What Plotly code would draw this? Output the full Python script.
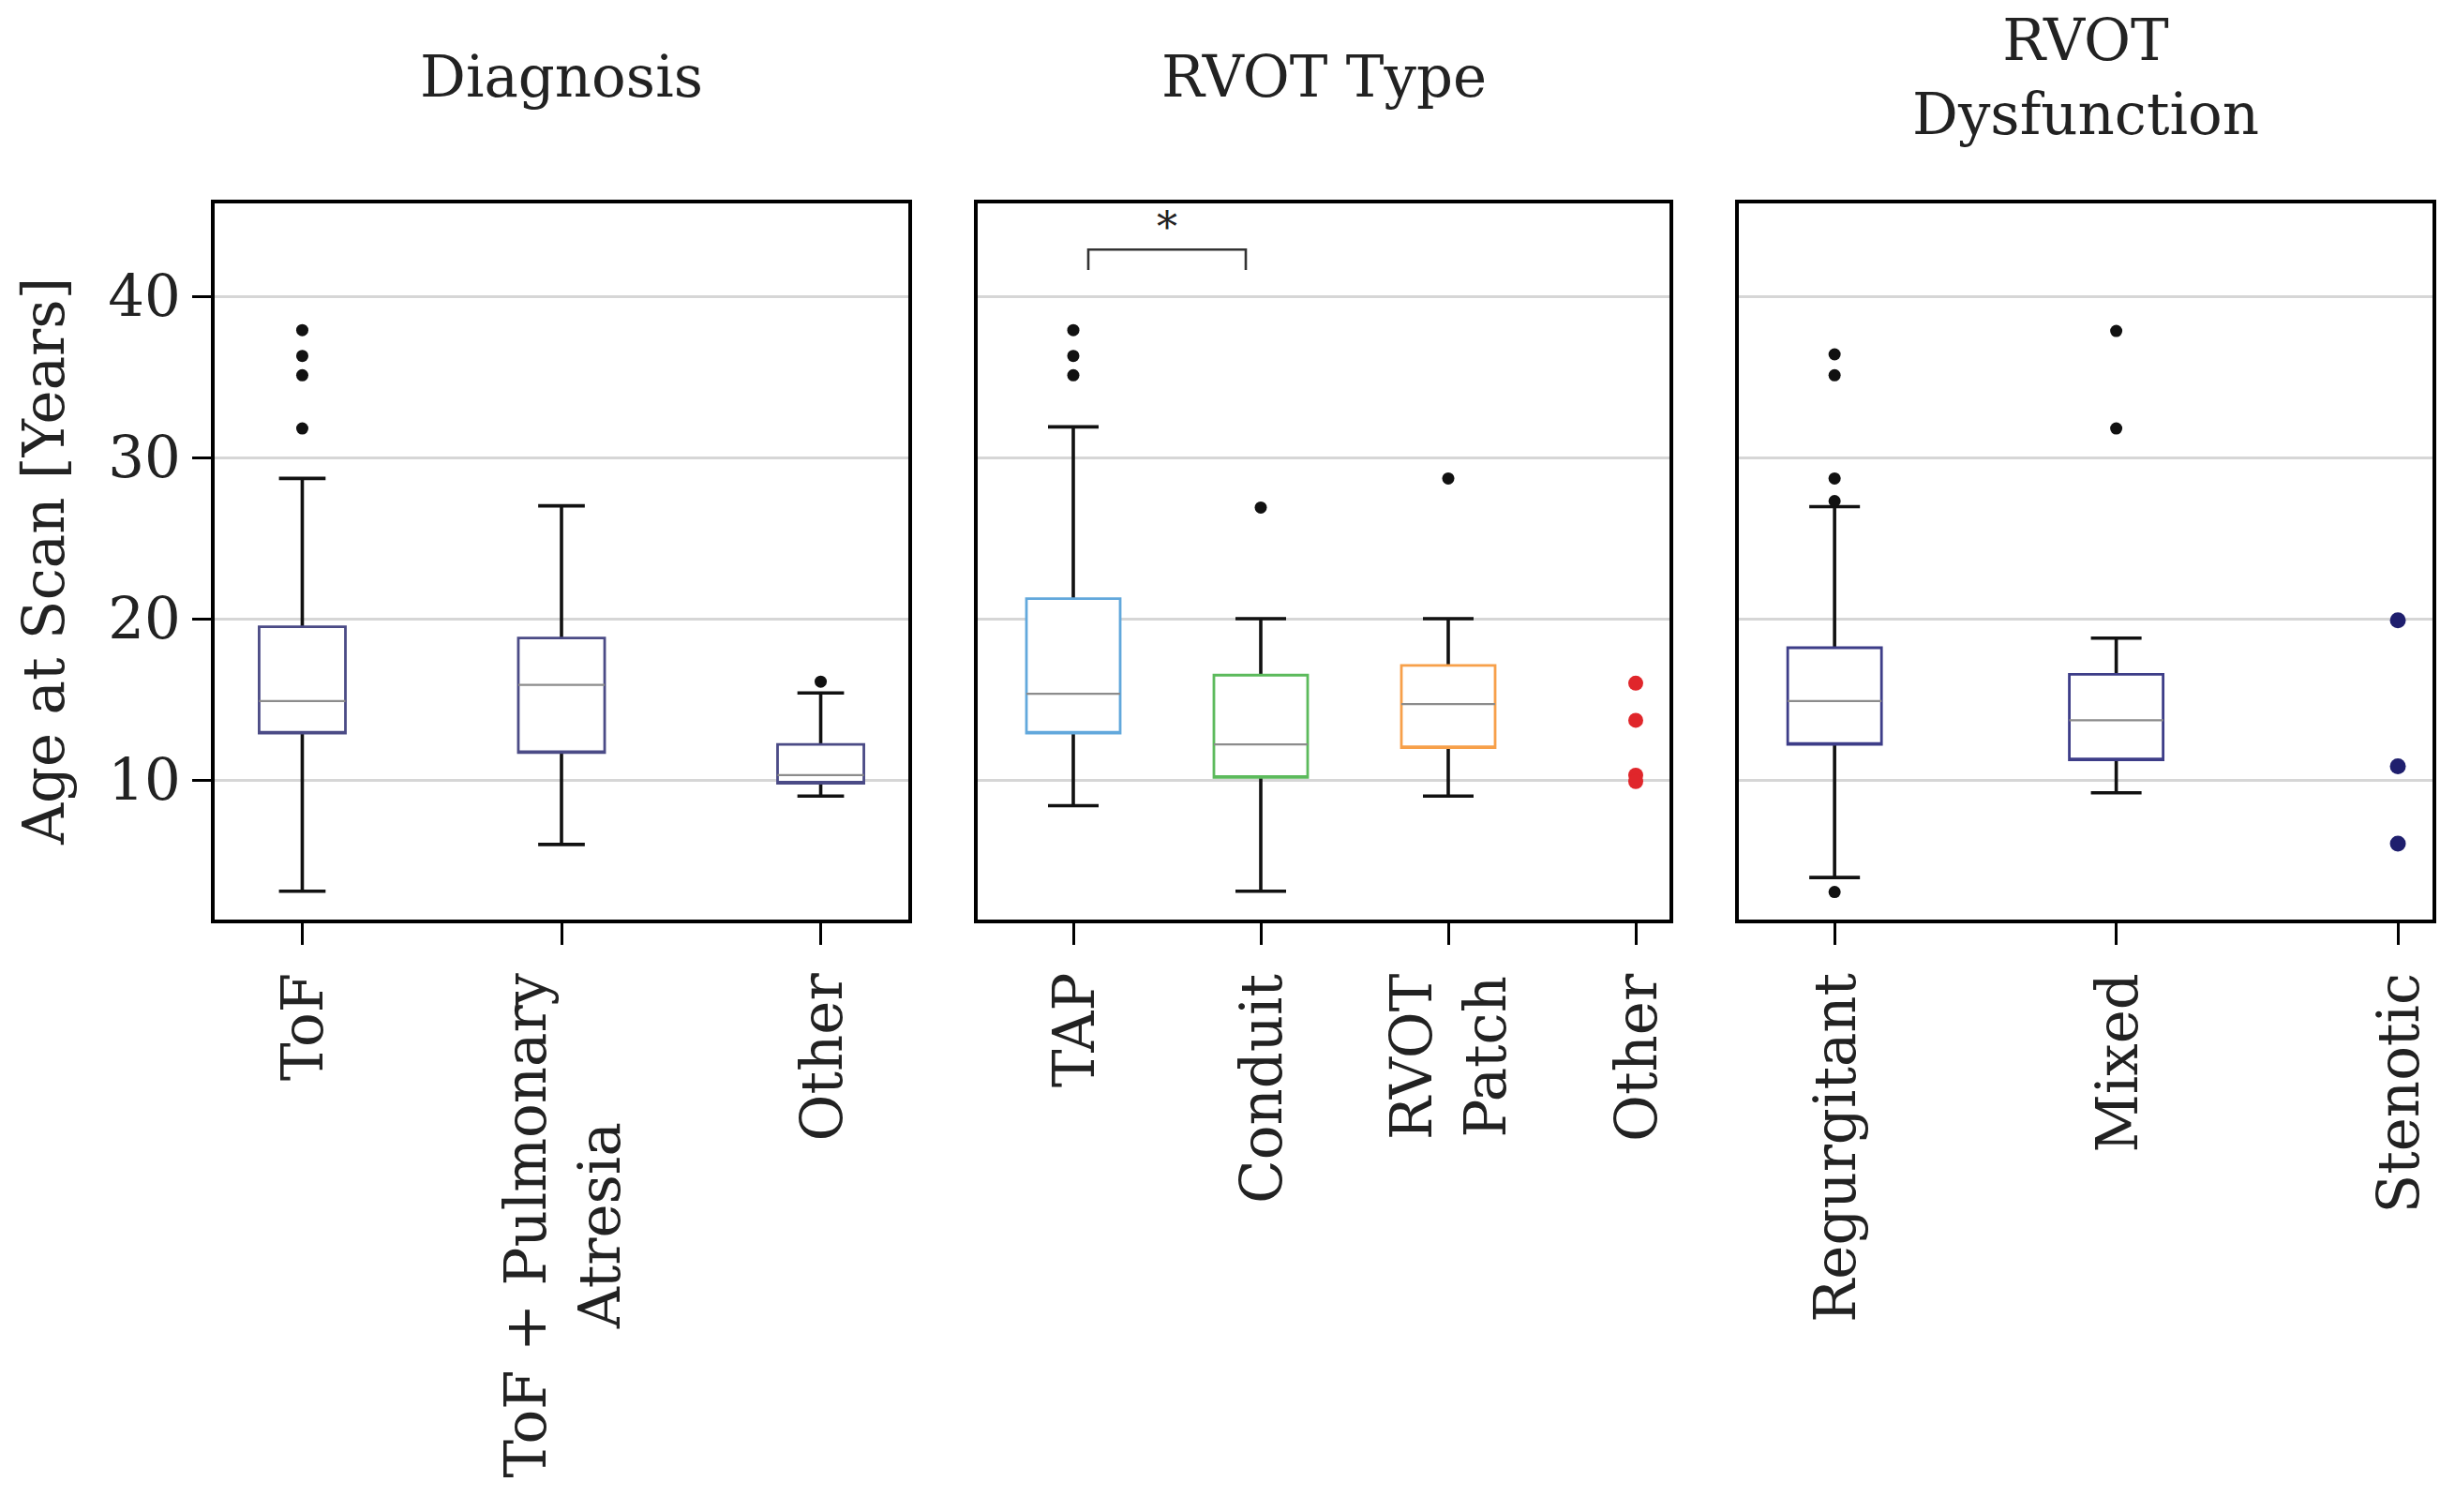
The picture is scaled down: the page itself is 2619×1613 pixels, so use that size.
import plotly.graph_objects as go

# ---------------- data ----------------
diag_cats = ["ToF", "ToF + Pulmonary<br>Atresia", "Other"]
diag_q1 = [12.9, 11.7, 9.8]
diag_med = [14.9, 15.9, 10.3]
diag_q3 = [19.5, 18.8, 12.2]
diag_lo = [3.1, 6.0, 9.0]
diag_hi = [28.7, 27.0, 15.4]
diag_out_tof = [31.8, 35.1, 36.3, 37.9]
diag_out_tofpa = []
diag_out_other = [16.1]

rvot_cats = ["TAP", "Conduit", "RVOT<br>Patch", "Other"]
rvot_q1 = [12.9, 10.15, 12.0]
rvot_med = [15.35, 12.2, 14.7]
rvot_q3 = [21.25, 16.5, 17.1]
rvot_lo = [8.4, 3.1, 9.0]
rvot_hi = [31.9, 20.0, 20.0]
rvot_out_tap = [35.1, 36.3, 37.9]
rvot_out_conduit = [26.9]
rvot_out_patch = [28.7]
rvot_other_points = [16.0, 13.7, 10.3, 9.9]

dysf_cats = ["Regurgitant", "Mixed", "Stenotic"]
dysf_q1 = [12.2, 11.25]
dysf_med = [14.9, 13.7]
dysf_q3 = [18.2, 16.55]
dysf_lo = [3.95, 9.2]
dysf_hi = [26.95, 18.8]
dysf_out_regurg = [3.05, 27.3, 28.7, 35.1, 36.4]
dysf_out_mixed = [31.8, 37.85]
dysf_stenotic_points = [19.9, 10.85, 6.05]

panel_titles = ["Diagnosis", "RVOT Type", "RVOT<br>Dysfunction"]
y_title = "Age at Scan [Years]"
y_ticks = [10, 20, 30, 40]
sig_pair = ("TAP", "Conduit")
sig_label = "*"

# ---------------- style ----------------
FONT = "DejaVu Serif"
TXT = "#222222"
FS = 61
diag_box_colors = ["#4b4b86", "#4b4b86", "#4b4b86"]
rvot_box_colors = ["#62a8dc", "#5cba5c", "#f7a04a"]
dysf_box_colors = ["#3d3d88", "#3d3d88"]
other_red = "#e0262b"
sten_navy = "#1f1f6e"
median_color = "#8c8c8c"
W = 2619
H = 1613
OFF = 8  # page body margin


def xp(px):
    return (px - OFF) / W


def yp(py):
    return 1 - (py - OFF) / H


x_domains = [[xp(229), xp(969)], [xp(1043), xp(1781)], [xp(1855), xp(2595)]]
y_domain = [yp(981), yp(217)]
x_ranges = [[-0.338, 2.338], [-0.51, 3.18], [-0.34, 2.123]]
box_widths = [0.333, 0.5, 0.333]
y_range = [1.34, 45.76]

fig = go.Figure()


def add_box(xpos, q1, med, q3, lo, hi, color, width, xa, ya):
    mid = (q1 + q3) / 2.0
    # whiskers (black), box part hidden under the white box
    fig.add_trace(go.Box(x=[xpos], q1=[mid], median=[mid], q3=[mid],
                         lowerfence=[lo], upperfence=[hi], width=width,
                         whiskerwidth=0.54, boxpoints=False,
                         line=dict(color="#111111", width=3.6),
                         fillcolor="rgba(0,0,0,0)", xaxis=xa, yaxis=ya,
                         hoverinfo="skip", showlegend=False))
    # coloured box outline with white fill
    fig.add_trace(go.Box(x=[xpos], q1=[q1], median=[q1], q3=[q3],
                         lowerfence=[q1], upperfence=[q3], width=width,
                         whiskerwidth=0, boxpoints=False,
                         line=dict(color=color, width=2.8),
                         fillcolor="white", xaxis=xa, yaxis=ya,
                         hoverinfo="skip", showlegend=False))
    # grey median
    fig.add_trace(go.Box(x=[xpos], q1=[med], median=[med], q3=[med],
                         lowerfence=[med], upperfence=[med], width=width,
                         whiskerwidth=0, boxpoints=False,
                         line=dict(color=median_color, width=2.2),
                         fillcolor="rgba(0,0,0,0)", xaxis=xa, yaxis=ya,
                         hoverinfo="skip", showlegend=False))


def add_points(xpos, vals, color, size, xa, ya):
    if not vals:
        return
    fig.add_trace(go.Scatter(x=[xpos] * len(vals), y=vals, mode="markers",
                             marker=dict(color=color, size=size),
                             xaxis=xa, yaxis=ya, hoverinfo="skip",
                             showlegend=False))


# panel 1
for i in range(3):
    add_box(i, diag_q1[i], diag_med[i], diag_q3[i], diag_lo[i], diag_hi[i],
            diag_box_colors[i], box_widths[0], "x", "y")
add_points(0, diag_out_tof, "#111111", 13, "x", "y")
add_points(1, diag_out_tofpa, "#111111", 13, "x", "y")
add_points(2, diag_out_other, "#111111", 13, "x", "y")

# panel 2
for i in range(3):
    add_box(i, rvot_q1[i], rvot_med[i], rvot_q3[i], rvot_lo[i], rvot_hi[i],
            rvot_box_colors[i], box_widths[1], "x2", "y2")
add_points(0, rvot_out_tap, "#111111", 13, "x2", "y2")
add_points(1, rvot_out_conduit, "#111111", 13, "x2", "y2")
add_points(2, rvot_out_patch, "#111111", 13, "x2", "y2")
add_points(3, rvot_other_points, other_red, 16, "x2", "y2")

# panel 3
for i in range(2):
    add_box(i, dysf_q1[i], dysf_med[i], dysf_q3[i], dysf_lo[i], dysf_hi[i],
            dysf_box_colors[i], box_widths[2], "x3", "y3")
add_points(0, dysf_out_regurg, "#111111", 13, "x3", "y3")
add_points(1, dysf_out_mixed, "#111111", 13, "x3", "y3")
add_points(2, dysf_stenotic_points, sten_navy, 17, "x3", "y3")

# significance bracket in panel 2
xa_sig = rvot_cats.index(sig_pair[0]) + 0.08
xb_sig = rvot_cats.index(sig_pair[1]) - 0.08
bar_y, tip_y = 42.9, 41.63
fig.add_trace(go.Scatter(x=[xa_sig, xa_sig, xb_sig, xb_sig],
                         y=[tip_y, bar_y, bar_y, tip_y], mode="lines",
                         line=dict(color="#333333", width=2.6),
                         xaxis="x2", yaxis="y2", hoverinfo="skip",
                         showlegend=False))

annotations = []
annotations.append(dict(x=(xa_sig + xb_sig) / 2, y=44.3, xref="x2", yref="y2",
                        text=sig_label, showarrow=False,
                        font=dict(size=44, color=TXT, family=FONT),
                        xanchor="center", yanchor="middle"))

# category labels (rotated, centred multi-line)
label_y = yp(1036)
for ax, cats in zip(["x", "x2", "x3"], [diag_cats, rvot_cats, dysf_cats]):
    for j, c in enumerate(cats):
        annotations.append(dict(x=j, y=label_y, xref=ax, yref="paper",
                                text=c, showarrow=False, textangle=-90,
                                xanchor="center", yanchor="top", align="center",
                                font=dict(size=FS, color=TXT, family=FONT)))

# panel titles
for k, t in enumerate(panel_titles):
    cx = (x_domains[k][0] + x_domains[k][1]) / 2
    annotations.append(dict(x=cx, y=yp(82), xref="paper", yref="paper",
                            text=t, showarrow=False, xanchor="center",
                            yanchor="middle", align="center",
                            font=dict(size=FS, color=TXT, family=FONT)))

# y-axis title
annotations.append(dict(x=xp(47), y=(y_domain[0] + y_domain[1]) / 2,
                        xref="paper", yref="paper", text=y_title,
                        showarrow=False, textangle=-90, xanchor="center",
                        yanchor="middle",
                        font=dict(size=FS, color=TXT, family=FONT)))

axis_common = dict(showline=True, mirror=True, linecolor="black", linewidth=4,
                   zeroline=False)

layout = dict(width=W, height=H, margin=dict(l=0, r=0, t=0, b=0),
              paper_bgcolor="white", plot_bgcolor="white", showlegend=False,
              font=dict(family=FONT, color=TXT, size=FS), boxmode="overlay",
              annotations=annotations)

for k, cats in enumerate([diag_cats, rvot_cats, dysf_cats]):
    sfx = "" if k == 0 else str(k + 1)
    layout["xaxis" + sfx] = dict(domain=x_domains[k], range=x_ranges[k],
                                 tickvals=list(range(len(cats))),
                                 showticklabels=False, ticks="outside",
                                 ticklen=23, tickwidth=3, tickcolor="black",
                                 showgrid=False, anchor="y" + sfx,
                                 **axis_common)
    layout["yaxis" + sfx] = dict(domain=y_domain, range=y_range,
                                 tickvals=y_ticks,
                                 showticklabels=(k == 0),
                                 ticks="outside" if k == 0 else "",
                                 ticklen=20, tickwidth=3, tickcolor="black",
                                 tickfont=dict(size=FS, color=TXT, family=FONT),
                                 showgrid=True, gridcolor="#d6d6d6", gridwidth=3,
                                 anchor="x" + sfx, **axis_common)

fig.update_layout(**layout)
fig.write_html("out.html")
